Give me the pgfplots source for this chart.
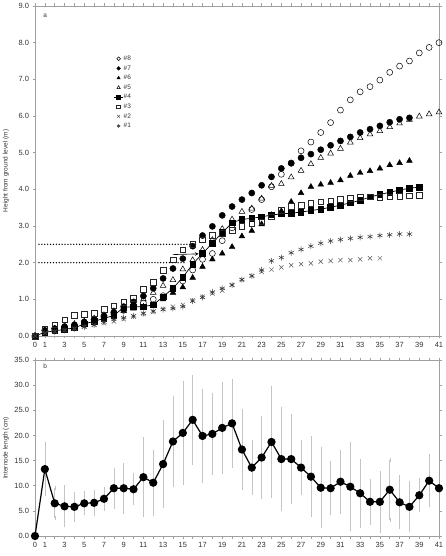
\documentclass[border=0pt]{standalone}
\usepackage{fontspec}
\setmainfont{Liberation Sans}
\usepackage{pgfplots}
\pgfplotsset{compat=1.18}
\usepackage{pgfplotstable}
\definecolor{axgray}{HTML}{A0A0A0}
\definecolor{errgray}{HTML}{C4C4C4}
\definecolor{txtgray}{HTML}{333333}

\pgfplotstableread{
x y
0 0
1 0.15
2 0.2
3 0.25
4 0.3
5 0.38
6 0.45
7 0.52
8 0.6
9 0.7
10 0.8
11 0.9
12 1.0
13 1.1
14 1.28
15 1.5
16 1.80
17 2.09
18 2.25
19 2.60
20 2.95
21 3.18
22 3.45
23 3.72
24 4.07
25 4.41
26 4.72
27 5.05
28 5.29
29 5.55
30 5.82
31 6.16
32 6.44
33 6.66
34 6.80
35 6.98
36 7.19
37 7.36
38 7.50
39 7.72
40 7.87
41 8.00
}\sH
\pgfplotstableread{
x y
0 0
1 0.15
2 0.2
3 0.25
4 0.3
5 0.38
6 0.45
7 0.55
8 0.65
9 0.8
10 0.93
11 1.09
12 1.30
13 1.57
14 1.84
15 2.11
16 2.45
17 2.74
18 2.99
19 3.29
20 3.53
21 3.72
22 3.90
23 4.11
24 4.34
25 4.57
26 4.71
27 4.86
28 4.96
29 5.08
30 5.20
31 5.32
32 5.43
33 5.55
34 5.64
35 5.73
36 5.83
37 5.91
38 5.95
}\sG
\pgfplotstableread{
x y
0 0
1 0.1
2 0.15
3 0.2
4 0.27
5 0.33
6 0.4
7 0.48
8 0.55
9 0.68
10 0.75
11 0.8
12 0.85
13 1.0
14 1.18
15 1.33
16 1.59
17 1.89
18 2.09
19 2.25
20 2.43
21 2.72
22 2.87
23 3.05
24 3.30
25 3.41
26 3.66
27 3.90
28 4.07
29 4.13
30 4.18
31 4.25
32 4.37
33 4.45
34 4.50
35 4.57
36 4.66
37 4.72
38 4.78
}\sF
\pgfplotstableread{
x y
0 0
1 0.15
2 0.2
3 0.28
4 0.33
5 0.4
6 0.48
7 0.57
8 0.68
9 0.78
10 0.85
11 1.0
12 1.18
13 1.37
14 1.53
15 1.82
16 2.07
17 2.35
18 2.62
19 2.92
20 3.18
21 3.39
22 3.48
23 3.75
24 4.10
25 4.15
26 4.33
27 4.51
28 4.69
29 4.86
30 4.98
31 5.11
32 5.28
33 5.40
34 5.50
35 5.59
36 5.70
37 5.80
38 5.90
39 5.99
40 6.05
41 6.10
}\sE
\pgfplotstableread{
x y
0 0
1 0.10
2 0.14
3 0.18
4 0.22
5 0.33
6 0.40
7 0.48
8 0.56
9 0.78
10 0.80
11 0.80
12 0.85
13 1.07
14 1.30
15 1.60
16 1.96
17 2.25
18 2.53
19 2.82
20 3.09
21 3.18
22 3.21
23 3.25
24 3.30
25 3.33
26 3.35
27 3.38
28 3.42
29 3.46
30 3.51
31 3.57
32 3.63
33 3.70
34 3.79
35 3.86
36 3.92
37 3.98
38 4.03
39 4.06
}\sD
\pgfplotstableread{
x y
0 0
1 0.18
2 0.31
3 0.44
4 0.57
5 0.60
6 0.62
7 0.73
8 0.83
9 0.92
10 1.03
11 1.28
12 1.46
13 1.80
14 2.08
15 2.35
16 2.50
17 2.62
18 2.74
19 2.80
20 2.88
21 3.00
22 3.08
23 3.12
24 3.25
25 3.43
26 3.54
27 3.57
28 3.62
29 3.66
30 3.69
31 3.73
32 3.76
33 3.78
34 3.80
35 3.78
36 3.80
37 3.81
38 3.82
39 3.84
}\sC
\pgfplotstableread{
x y
0 0
1 0.08
2 0.12
3 0.16
4 0.2
5 0.25
6 0.3
7 0.35
8 0.4
9 0.46
10 0.53
11 0.6
12 0.66
13 0.74
14 0.80
15 0.85
16 0.97
17 1.07
18 1.16
19 1.24
20 1.39
21 1.53
22 1.64
23 1.75
24 1.81
25 1.87
26 1.93
27 1.96
28 1.98
29 2.03
30 2.05
31 2.07
32 2.07
33 2.09
34 2.12
35 2.12
}\sB
\pgfplotstableread{
x y
0 0
1 0.08
2 0.12
3 0.15
4 0.2
5 0.25
6 0.3
7 0.38
8 0.45
9 0.5
10 0.55
11 0.62
12 0.68
13 0.72
14 0.75
15 0.8
16 0.95
17 1.05
18 1.2
19 1.30
20 1.39
21 1.54
22 1.64
23 1.80
24 2.05
25 2.14
26 2.27
27 2.36
28 2.45
29 2.53
30 2.59
31 2.63
32 2.66
33 2.69
34 2.71
35 2.74
36 2.76
37 2.78
38 2.78
}\sA
\pgfplotstableread{
x y e
0 0 0
1 13.3 5.0
2 6.5 3.0
3 5.9 3.8
4 5.8 2.6
5 6.5 2.0
6 6.6 2.2
7 7.4 2.0
8 9.5 3.7
9 9.5 4.7
10 9.3 2.8
11 11.7 7.6
12 10.6 6.2
13 14.3 8.3
14 18.8 8.7
15 20.5 10.0
16 23.1 8.5
17 19.9 9.0
18 20.3 7.8
19 21.5 8.8
20 22.4 8.5
21 17.2 7.7
22 13.6 5.0
23 15.6 7.8
24 18.7 10.8
25 15.3 10.0
26 15.3 8.5
27 13.6 5.0
28 11.8 7.7
29 9.6 7.7
30 9.5 5.0
31 10.8 6.0
32 9.8 8.5
33 8.5 6.5
34 6.8 4.2
35 6.8 5.8
36 9.2 6.0
37 6.7 5.0
38 5.8 4.7
39 8.1 3.0
40 11.0 4.9
41 9.5 0
}\intern

\pgfplotsset{
  legimg/.style={legend image code/.code={\draw[##1, mark size=1.9pt] plot coordinates {(0.15cm,0cm)};}},
  legline/.style={legend image code/.code={\draw[##1, mark size=1.9pt] plot[mark indices={2}] coordinates {(0cm,0cm) (0.15cm,0cm) (0.3cm,0cm)};}},
  myaxis/.style={
    scale only axis, width=404pt,
    xmin=0, xmax=41, clip=false,
    axis line style={axgray, line width=0.6pt},
    tick style={axgray, line width=0.5pt},
    tick align=outside, major tick length=2.5pt,
    xtick={0,...,41},
    xticklabels={0,1,{},3,{},5,{},7,{},9,{},11,{},13,{},15,{},17,{},19,{},21,{},23,{},25,{},27,{},29,{},31,{},33,{},35,{},37,{},39,{},41},
    ticklabel style={font=\fontsize{7.5}{8}\selectfont, text=txtgray},
    yticklabel style={/pgf/number format/.cd, fixed, fixed zerofill, precision=1},
    /pgf/number format/assume math mode=true,
    ylabel style={font=\fontsize{6.5}{7}\selectfont, text=txtgray, at={(axis description cs:-0.072,0.5)}, anchor=center},
  }
}

\begin{document}
\begin{tikzpicture}
\useasboundingbox (-35pt,6pt) rectangle (411pt,-550pt);
\begin{axis}[myaxis, at={(0pt,0pt)}, anchor=north west,
  height=330pt, ymin=0, ymax=9, ytick={0,...,9},
  ylabel={Height from ground level (m)},
  legend style={at={(axis description cs:0.195,0.852)}, anchor=north west, draw=none, fill=none,
    font=\fontsize{6.5}{7}\selectfont, inner sep=0pt, row sep=2.1pt,
    nodes={inner sep=0.5pt, text height=5pt, text depth=1.5pt, text=txtgray}},
  legend cell align=left]
\draw[black, line width=1.5pt, line cap=round, dash pattern=on 0pt off 2.9pt] (axis cs:0.4,2.5) -- (axis cs:16,2.5);
\draw[black, line width=1.5pt, line cap=round, dash pattern=on 0pt off 2.9pt] (axis cs:0.4,2.0) -- (axis cs:15.3,2.0);
\draw[->, >=stealth, line width=0.6pt] (axis cs:14,2.22) -- (axis cs:16.6,2.24);
\node[font=\fontsize{6.5}{7}\selectfont, text=txtgray] at (axis description cs:0.025,0.97) {a};
\addplot[only marks, mark=o, mark size=3pt, black, mark options={line width=0.5pt}, legimg] table {\sH};
\addlegendentry{\#8}
\addplot[only marks, mark=*, mark size=3.1pt, black, legimg] table {\sG};
\addlegendentry{\#7}
\addplot[only marks, mark=triangle*, mark size=3.3pt, black, legimg] table {\sF};
\addlegendentry{\#6}
\addplot[only marks, mark=triangle, mark size=3.3pt, black, mark options={line width=0.5pt}, legimg] table {\sE};
\addlegendentry{\#5}
\addplot[black, line width=0.7pt, mark=square*, mark size=2.8pt, legline] table {\sD};
\addlegendentry{\#4}
\addplot[only marks, mark=square, mark size=2.8pt, black!85, mark options={line width=0.5pt}, legimg] table {\sC};
\addlegendentry{\#3}
\addplot[only marks, mark=x, mark size=3pt, black!65, mark options={line width=0.5pt}, legimg] table {\sB};
\addlegendentry{\#2}
\addplot[only marks, mark=asterisk, mark size=3pt, black!80, mark options={line width=0.5pt}, legimg] table {\sA};
\addlegendentry{\#1}
\end{axis}
\begin{axis}[myaxis, at={(0pt,-354pt)}, anchor=north west,
  height=176pt, ymin=0, ymax=35, ytick={0,5,...,35},
  ylabel={Internode length (cm)}]
\node[font=\fontsize{6.5}{7}\selectfont, text=txtgray] at (axis description cs:0.025,0.966) {b};
\addplot[only marks, mark=none, errgray,
  error bars/.cd, y dir=both, y explicit,
  error bar style={errgray, line width=0.5pt},
  error mark options={errgray, mark size=2pt}]
  table[x=x, y=y, y error=e] {\intern};
\addplot[black, line width=1.2pt, mark=*, mark size=3.5pt] table[x=x, y=y] {\intern};
\end{axis}
\end{tikzpicture}
\end{document}
